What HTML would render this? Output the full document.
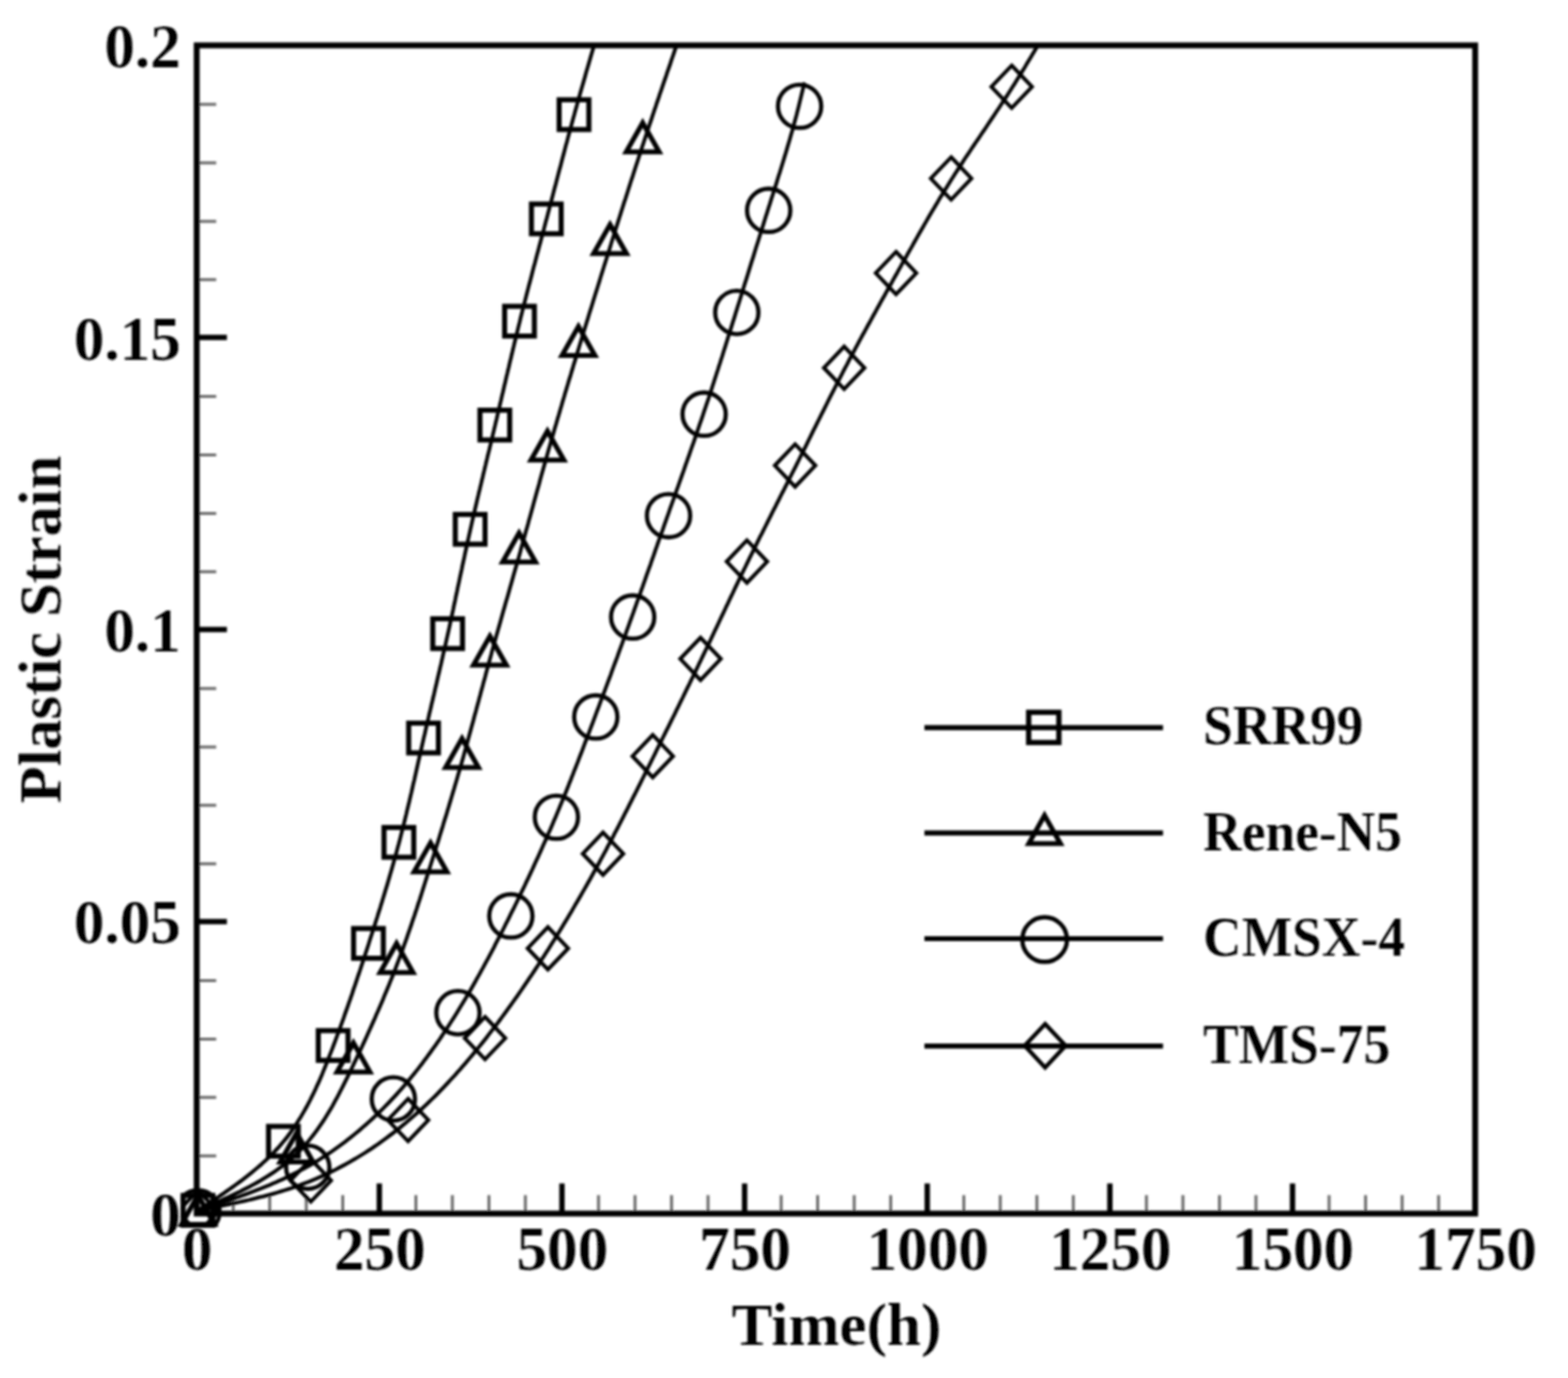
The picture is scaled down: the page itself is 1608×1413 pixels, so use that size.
<!DOCTYPE html>
<html lang="en"><head><meta charset="utf-8"><title>Plastic Strain vs Time(h)</title>
<style>
html,body{margin:0;padding:0;background:#fff;}
body{width:1608px;height:1413px;overflow:hidden;}
svg{display:block;}
</style></head><body>
<svg width="1608" height="1413" viewBox="0 0 1608 1413">
<defs><filter id="bl" x="-2%" y="-2%" width="104%" height="104%"><feGaussianBlur stdDeviation="0.8"/></filter></defs>
<rect width="1608" height="1413" fill="#fff"/>
<g filter="url(#bl)">
<clipPath id="oc"><rect x="185.5" y="1200" width="80" height="58.5"/></clipPath>
<clipPath id="cp"><rect x="201.7" y="46.5" width="1311.1" height="1227.9"/></clipPath>
<g stroke="#000" fill="none">
<path d="M239.2,1244.4 V1225.4 M276.6,1244.4 V1225.4 M314.1,1244.4 V1225.4 M351.5,1244.4 V1225.4 M426.5,1244.4 V1225.4 M463.9,1244.4 V1225.4 M501.4,1244.4 V1225.4 M538.8,1244.4 V1225.4 M613.8,1244.4 V1225.4 M651.2,1244.4 V1225.4 M688.7,1244.4 V1225.4 M726.1,1244.4 V1225.4 M801.1,1244.4 V1225.4 M838.5,1244.4 V1225.4 M876.0,1244.4 V1225.4 M913.4,1244.4 V1225.4 M988.4,1244.4 V1225.4 M1025.8,1244.4 V1225.4 M1063.3,1244.4 V1225.4 M1100.7,1244.4 V1225.4 M1175.7,1244.4 V1225.4 M1213.1,1244.4 V1225.4 M1250.6,1244.4 V1225.4 M1288.0,1244.4 V1225.4 M1363.0,1244.4 V1225.4 M1400.4,1244.4 V1225.4 M1437.9,1244.4 V1225.4 M1475.3,1244.4 V1225.4 M201.7,1185.2 H221.7 M201.7,1125.3 H221.7 M201.7,1065.4 H221.7 M201.7,1005.5 H221.7 M201.7,885.7 H221.7 M201.7,825.8 H221.7 M201.7,765.9 H221.7 M201.7,706.0 H221.7 M201.7,586.3 H221.7 M201.7,526.4 H221.7 M201.7,466.5 H221.7 M201.7,406.6 H221.7 M201.7,286.8 H221.7 M201.7,226.9 H221.7 M201.7,167.0 H221.7 M201.7,107.1 H221.7" stroke="#6a6a6a" stroke-width="3"/>
<path d="M389.0,1244.4 V1213.4 M576.3,1244.4 V1213.4 M763.6,1244.4 V1213.4 M950.9,1244.4 V1213.4 M1138.2,1244.4 V1213.4 M1325.5,1244.4 V1213.4 M201.7,944.9 H232.7 M201.7,645.5 H232.7 M201.7,346.0 H232.7" stroke-width="5.5"/>
<rect x="201.7" y="46.5" width="1311.1" height="1197.9" stroke-width="6"/>
</g>
<g clip-path="url(#cp)" stroke="#000" fill="none" stroke-width="3.8" stroke-linejoin="round">
<path d="M202.5,1241.5 L205.3,1239.7 L208.0,1237.9 L210.8,1236.1 L213.5,1234.3 L216.2,1232.4 L219.0,1230.6 L221.7,1228.8 L224.4,1227.0 L227.1,1225.1 L229.8,1223.3 L232.5,1221.4 L235.2,1219.5 L237.9,1217.6 L240.5,1215.7 L243.2,1213.8 L245.8,1211.9 L248.4,1210.0 L250.9,1208.0 L253.5,1206.0 L256.0,1204.0 L258.5,1202.0 L261.0,1199.9 L263.4,1197.9 L265.9,1195.8 L268.3,1193.7 L270.6,1191.5 L273.0,1189.4 L275.3,1187.2 L277.5,1184.9 L279.8,1182.7 L282.0,1180.4 L284.1,1178.1 L286.3,1175.7 L288.4,1173.3 L290.4,1170.9 L292.4,1168.5 L294.4,1166.0 L296.3,1163.5 L298.2,1160.9 L300.0,1158.3 L301.8,1155.7 L303.6,1153.0 L305.3,1150.3 L307.0,1147.6 L308.7,1144.9 L310.3,1142.1 L311.9,1139.4 L313.5,1136.5 L315.1,1133.7 L316.6,1130.9 L318.1,1128.0 L319.5,1125.1 L321.0,1122.2 L322.4,1119.2 L323.8,1116.3 L325.1,1113.3 L326.5,1110.4 L327.8,1107.4 L329.1,1104.4 L330.4,1101.4 L331.6,1098.4 L332.9,1095.3 L334.1,1092.3 L335.3,1089.3 L336.6,1086.2 L337.7,1083.2 L338.9,1080.1 L340.1,1077.1 L341.3,1074.0 L342.4,1071.0 L343.6,1067.9 L344.7,1064.9 L345.8,1061.8 L347.0,1058.8 L348.1,1055.8 L349.2,1052.7 L350.3,1049.7 L351.4,1046.6 L352.5,1043.6 L353.5,1040.6 L354.6,1037.5 L355.7,1034.5 L356.8,1031.4 L357.8,1028.4 L358.9,1025.4 L359.9,1022.3 L361.0,1019.3 L362.0,1016.2 L363.0,1013.2 L364.1,1010.2 L365.1,1007.1 L366.1,1004.1 L367.1,1001.0 L368.2,998.0 L369.2,995.0 L370.2,991.9 L371.2,988.9 L372.2,985.8 L373.2,982.8 L374.2,979.7 L375.2,976.7 L376.2,973.6 L377.2,970.6 L378.2,967.5 L379.1,964.5 L380.1,961.4 L381.1,958.4 L382.1,955.3 L383.1,952.2 L384.1,949.2 L385.0,946.1 L386.0,943.0 L387.0,940.0 L387.9,936.9 L388.9,933.8 L389.9,930.8 L390.8,927.7 L391.8,924.6 L392.7,921.5 L393.7,918.4 L394.6,915.4 L395.5,912.3 L396.5,909.2 L397.4,906.1 L398.3,903.0 L399.2,899.9 L400.1,896.8 L401.0,893.7 L401.9,890.6 L402.8,887.5 L403.7,884.4 L404.5,881.3 L405.4,878.2 L406.3,875.1 L407.1,872.0 L407.9,868.9 L408.8,865.8 L409.6,862.7 L410.4,859.6 L411.2,856.4 L412.0,853.3 L412.8,850.2 L413.6,847.1 L414.4,843.9 L415.2,840.8 L415.9,837.7 L416.7,834.6 L417.4,831.4 L418.2,828.3 L418.9,825.2 L419.7,822.0 L420.4,818.9 L421.1,815.8 L421.9,812.6 L422.6,809.5 L423.3,806.4 L424.0,803.2 L424.8,800.1 L425.5,796.9 L426.2,793.8 L426.9,790.7 L427.6,787.5 L428.3,784.4 L429.0,781.2 L429.7,778.1 L430.4,775.0 L431.2,771.8 L431.9,768.7 L432.6,765.5 L433.3,762.4 L434.0,759.3 L434.7,756.1 L435.5,753.0 L436.2,749.8 L436.9,746.7 L437.6,743.6 L438.4,740.4 L439.1,737.3 L439.8,734.2 L440.5,731.0 L441.3,727.9 L442.0,724.8 L442.7,721.6 L443.5,718.5 L444.2,715.3 L445.0,712.2 L445.7,709.1 L446.4,705.9 L447.2,702.8 L447.9,699.7 L448.6,696.5 L449.3,693.4 L450.1,690.3 L450.8,687.1 L451.5,684.0 L452.3,680.9 L453.0,677.7 L453.7,674.6 L454.4,671.4 L455.1,668.3 L455.9,665.2 L456.6,662.0 L457.3,658.9 L458.0,655.7 L458.7,652.6 L459.4,649.5 L460.1,646.3 L460.8,643.2 L461.5,640.0 L462.1,636.9 L462.8,633.7 L463.5,630.6 L464.2,627.4 L464.9,624.3 L465.5,621.1 L466.2,618.0 L466.9,614.8 L467.5,611.7 L468.2,608.5 L468.9,605.4 L469.5,602.2 L470.2,599.1 L470.9,595.9 L471.5,592.8 L472.2,589.6 L472.9,586.5 L473.6,583.3 L474.2,580.2 L474.9,577.0 L475.6,573.9 L476.3,570.7 L476.9,567.6 L477.6,564.5 L478.3,561.3 L479.0,558.2 L479.7,555.0 L480.4,551.9 L481.1,548.7 L481.8,545.6 L482.5,542.4 L483.2,539.3 L483.9,536.2 L484.6,533.0 L485.3,529.9 L486.1,526.8 L486.8,523.6 L487.5,520.5 L488.3,517.3 L489.0,514.2 L489.7,511.1 L490.5,507.9 L491.2,504.8 L492.0,501.7 L492.7,498.6 L493.5,495.4 L494.2,492.3 L495.0,489.2 L495.7,486.0 L496.5,482.9 L497.2,479.8 L498.0,476.6 L498.7,473.5 L499.5,470.4 L500.2,467.2 L501.0,464.1 L501.8,461.0 L502.5,457.9 L503.3,454.7 L504.0,451.6 L504.8,448.5 L505.5,445.3 L506.3,442.2 L507.0,439.1 L507.8,435.9 L508.5,432.8 L509.3,429.7 L510.0,426.5 L510.7,423.4 L511.5,420.3 L512.2,417.1 L512.9,414.0 L513.7,410.9 L514.4,407.7 L515.1,404.6 L515.9,401.5 L516.6,398.3 L517.3,395.2 L518.1,392.0 L518.8,388.9 L519.5,385.8 L520.3,382.6 L521.0,379.5 L521.8,376.4 L522.5,373.2 L523.2,370.1 L524.0,367.0 L524.7,363.8 L525.5,360.7 L526.2,357.6 L527.0,354.4 L527.7,351.3 L528.5,348.2 L529.2,345.1 L530.0,341.9 L530.8,338.8 L531.5,335.7 L532.3,332.6 L533.1,329.4 L533.8,326.3 L534.6,323.2 L535.4,320.1 L536.2,316.9 L537.0,313.8 L537.8,310.7 L538.6,307.6 L539.4,304.5 L540.2,301.3 L541.0,298.2 L541.8,295.1 L542.6,292.0 L543.5,288.9 L544.3,285.8 L545.1,282.7 L545.9,279.5 L546.7,276.4 L547.5,273.3 L548.4,270.2 L549.2,267.1 L550.0,264.0 L550.8,260.9 L551.7,257.7 L552.5,254.6 L553.3,251.5 L554.2,248.4 L555.0,245.3 L555.8,242.2 L556.6,239.1 L557.5,236.0 L558.3,232.9 L559.1,229.7 L559.9,226.6 L560.8,223.5 L561.6,220.4 L562.4,217.3 L563.2,214.2 L564.0,211.1 L564.9,207.9 L565.7,204.8 L566.5,201.7 L567.3,198.6 L568.1,195.5 L568.9,192.4 L569.8,189.3 L570.6,186.1 L571.4,183.0 L572.2,179.9 L573.0,176.8 L573.8,173.7 L574.7,170.6 L575.5,167.5 L576.3,164.3 L577.1,161.2 L578.0,158.1 L578.8,155.0 L579.6,151.9 L580.4,148.8 L581.3,145.7 L582.1,142.6 L582.9,139.5 L583.8,136.3 L584.6,133.2 L585.5,130.1 L586.3,127.0 L587.2,123.9 L588.0,120.8 L588.9,117.7 L589.7,114.6 L590.6,111.5 L591.5,108.4 L592.3,105.3 L593.2,102.2 L594.1,99.1 L594.9,96.0 L595.8,92.9 L596.7,89.8 L597.6,86.7 L598.5,83.6 L599.4,80.5 L600.3,77.4 L601.1,74.3 L602.0,71.2 L602.9,68.2 L603.8,65.1 L604.7,62.0 L605.6,58.9 L606.5,55.8 L607.4,52.7 L608.3,49.6 L609.2,46.5"/>
<path d="M202.5,1241.5 L205.6,1240.1 L208.8,1238.8 L211.9,1237.4 L215.1,1236.1 L218.2,1234.7 L221.3,1233.3 L224.5,1231.9 L227.6,1230.5 L230.7,1229.1 L233.8,1227.7 L236.8,1226.3 L239.9,1224.8 L243.0,1223.3 L246.0,1221.9 L249.0,1220.3 L252.0,1218.8 L255.0,1217.3 L257.9,1215.7 L260.8,1214.1 L263.7,1212.5 L266.6,1210.8 L269.4,1209.1 L272.3,1207.4 L275.1,1205.7 L277.8,1203.9 L280.5,1202.1 L283.2,1200.2 L285.9,1198.3 L288.5,1196.4 L291.1,1194.4 L293.6,1192.4 L296.1,1190.3 L298.6,1188.2 L301.0,1186.1 L303.4,1183.9 L305.7,1181.6 L308.0,1179.3 L310.2,1177.0 L312.4,1174.6 L314.6,1172.1 L316.7,1169.6 L318.7,1167.1 L320.8,1164.5 L322.8,1161.9 L324.7,1159.3 L326.6,1156.6 L328.5,1153.9 L330.4,1151.1 L332.2,1148.4 L334.0,1145.5 L335.7,1142.7 L337.5,1139.8 L339.2,1137.0 L340.9,1134.1 L342.5,1131.1 L344.1,1128.2 L345.8,1125.2 L347.4,1122.2 L348.9,1119.2 L350.5,1116.2 L352.0,1113.2 L353.5,1110.2 L355.0,1107.1 L356.5,1104.1 L358.0,1101.1 L359.5,1098.0 L360.9,1095.0 L362.4,1091.9 L363.8,1088.9 L365.3,1085.8 L366.7,1082.8 L368.1,1079.7 L369.6,1076.7 L371.0,1073.7 L372.4,1070.6 L373.8,1067.6 L375.2,1064.6 L376.6,1061.5 L377.9,1058.5 L379.3,1055.5 L380.7,1052.4 L382.0,1049.4 L383.4,1046.4 L384.7,1043.4 L386.0,1040.3 L387.4,1037.3 L388.7,1034.3 L390.0,1031.2 L391.3,1028.2 L392.6,1025.2 L393.8,1022.1 L395.1,1019.1 L396.4,1016.0 L397.6,1013.0 L398.9,1009.9 L400.1,1006.9 L401.4,1003.8 L402.6,1000.8 L403.8,997.7 L405.0,994.6 L406.2,991.5 L407.3,988.5 L408.5,985.4 L409.7,982.3 L410.8,979.2 L412.0,976.1 L413.1,973.0 L414.2,969.9 L415.3,966.8 L416.5,963.6 L417.6,960.5 L418.6,957.4 L419.7,954.3 L420.8,951.1 L421.9,948.0 L422.9,944.8 L424.0,941.7 L425.1,938.6 L426.1,935.4 L427.2,932.3 L428.2,929.1 L429.2,925.9 L430.3,922.8 L431.3,919.6 L432.3,916.5 L433.3,913.3 L434.3,910.1 L435.3,907.0 L436.3,903.8 L437.3,900.6 L438.3,897.5 L439.3,894.3 L440.3,891.1 L441.3,888.0 L442.3,884.8 L443.3,881.6 L444.3,878.5 L445.3,875.3 L446.3,872.1 L447.3,869.0 L448.3,865.8 L449.3,862.6 L450.3,859.4 L451.2,856.3 L452.2,853.1 L453.2,849.9 L454.2,846.8 L455.1,843.6 L456.1,840.4 L457.1,837.3 L458.1,834.1 L459.0,830.9 L460.0,827.7 L460.9,824.6 L461.9,821.4 L462.8,818.2 L463.8,815.0 L464.7,811.9 L465.7,808.7 L466.6,805.5 L467.6,802.3 L468.5,799.2 L469.4,796.0 L470.3,792.8 L471.3,789.6 L472.2,786.4 L473.1,783.2 L474.0,780.1 L474.9,776.9 L475.8,773.7 L476.7,770.5 L477.6,767.3 L478.5,764.1 L479.4,760.9 L480.2,757.7 L481.1,754.5 L482.0,751.3 L482.9,748.1 L483.7,744.9 L484.6,741.7 L485.5,738.5 L486.3,735.3 L487.2,732.1 L488.1,728.9 L488.9,725.7 L489.8,722.5 L490.7,719.3 L491.5,716.1 L492.4,712.9 L493.2,709.7 L494.1,706.5 L495.0,703.3 L495.8,700.1 L496.7,696.9 L497.6,693.7 L498.4,690.5 L499.3,687.3 L500.2,684.1 L501.0,680.9 L501.9,677.7 L502.8,674.5 L503.7,671.3 L504.5,668.1 L505.4,664.9 L506.3,661.7 L507.2,658.5 L508.1,655.3 L509.0,652.1 L509.9,648.9 L510.8,645.7 L511.7,642.6 L512.6,639.4 L513.5,636.2 L514.4,633.0 L515.3,629.8 L516.2,626.6 L517.1,623.4 L518.0,620.2 L518.9,617.0 L519.9,613.8 L520.8,610.7 L521.7,607.5 L522.6,604.3 L523.5,601.1 L524.4,597.9 L525.3,594.7 L526.2,591.5 L527.1,588.3 L528.0,585.2 L528.9,582.0 L529.9,578.8 L530.8,575.6 L531.7,572.4 L532.6,569.2 L533.5,566.0 L534.3,562.8 L535.2,559.6 L536.1,556.4 L537.0,553.2 L537.9,550.0 L538.8,546.8 L539.7,543.6 L540.6,540.5 L541.5,537.3 L542.3,534.1 L543.2,530.9 L544.1,527.7 L545.0,524.5 L545.9,521.3 L546.8,518.1 L547.6,514.9 L548.5,511.7 L549.4,508.5 L550.3,505.3 L551.2,502.1 L552.1,498.9 L553.0,495.7 L553.8,492.5 L554.7,489.3 L555.6,486.1 L556.5,482.9 L557.4,479.7 L558.3,476.6 L559.2,473.4 L560.1,470.2 L561.0,467.0 L561.9,463.8 L562.8,460.6 L563.7,457.4 L564.6,454.2 L565.5,451.0 L566.5,447.8 L567.4,444.7 L568.3,441.5 L569.2,438.3 L570.2,435.1 L571.1,431.9 L572.0,428.7 L573.0,425.6 L573.9,422.4 L574.8,419.2 L575.8,416.0 L576.7,412.8 L577.6,409.7 L578.6,406.5 L579.5,403.3 L580.5,400.1 L581.4,397.0 L582.4,393.8 L583.3,390.6 L584.3,387.4 L585.3,384.3 L586.2,381.1 L587.2,377.9 L588.1,374.7 L589.1,371.6 L590.1,368.4 L591.0,365.2 L592.0,362.0 L593.0,358.9 L593.9,355.7 L594.9,352.5 L595.9,349.4 L596.8,346.2 L597.8,343.0 L598.8,339.8 L599.7,336.7 L600.7,333.5 L601.7,330.3 L602.7,327.2 L603.6,324.0 L604.6,320.8 L605.6,317.7 L606.6,314.5 L607.6,311.3 L608.5,308.2 L609.5,305.0 L610.5,301.8 L611.5,298.7 L612.5,295.5 L613.5,292.3 L614.5,289.2 L615.4,286.0 L616.4,282.8 L617.4,279.7 L618.4,276.5 L619.4,273.3 L620.4,270.2 L621.4,267.0 L622.4,263.8 L623.4,260.7 L624.4,257.5 L625.4,254.4 L626.3,251.2 L627.3,248.0 L628.3,244.9 L629.3,241.7 L630.3,238.5 L631.3,235.4 L632.3,232.2 L633.3,229.1 L634.3,225.9 L635.3,222.7 L636.3,219.6 L637.3,216.4 L638.3,213.2 L639.3,210.1 L640.3,206.9 L641.4,203.8 L642.4,200.6 L643.4,197.5 L644.4,194.3 L645.4,191.1 L646.4,188.0 L647.4,184.8 L648.5,181.7 L649.5,178.5 L650.5,175.4 L651.5,172.2 L652.5,169.1 L653.6,165.9 L654.6,162.7 L655.6,159.6 L656.7,156.4 L657.7,153.3 L658.7,150.1 L659.8,147.0 L660.8,143.9 L661.9,140.7 L662.9,137.6 L663.9,134.4 L665.0,131.3 L666.0,128.1 L667.1,125.0 L668.2,121.8 L669.2,118.7 L670.3,115.5 L671.3,112.4 L672.4,109.3 L673.4,106.1 L674.5,103.0 L675.6,99.8 L676.6,96.7 L677.7,93.6 L678.8,90.4 L679.8,87.3 L680.9,84.1 L682.0,81.0 L683.1,77.9 L684.1,74.7 L685.2,71.6 L686.3,68.5 L687.4,65.3 L688.4,62.2 L689.5,59.0 L690.6,55.9 L691.6,52.8 L692.7,49.6 L693.8,46.5"/>
<path d="M202.5,1241.5 L205.8,1240.4 L209.0,1239.4 L212.3,1238.3 L215.6,1237.2 L218.9,1236.1 L222.1,1235.0 L225.4,1233.9 L228.6,1232.8 L231.9,1231.7 L235.1,1230.6 L238.4,1229.5 L241.6,1228.3 L244.9,1227.2 L248.1,1226.0 L251.3,1224.9 L254.5,1223.7 L257.7,1222.5 L260.9,1221.3 L264.1,1220.0 L267.3,1218.8 L270.5,1217.5 L273.6,1216.2 L276.8,1214.9 L279.9,1213.5 L283.1,1212.2 L286.2,1210.8 L289.3,1209.4 L292.4,1208.0 L295.5,1206.5 L298.5,1205.0 L301.6,1203.5 L304.6,1202.0 L307.6,1200.4 L310.6,1198.8 L313.6,1197.2 L316.6,1195.5 L319.6,1193.8 L322.5,1192.0 L325.4,1190.3 L328.3,1188.5 L331.2,1186.6 L334.1,1184.8 L336.9,1182.9 L339.8,1181.0 L342.6,1179.0 L345.4,1177.0 L348.2,1175.0 L350.9,1173.0 L353.7,1170.9 L356.4,1168.8 L359.1,1166.7 L361.8,1164.6 L364.4,1162.4 L367.1,1160.2 L369.7,1158.0 L372.3,1155.7 L374.9,1153.5 L377.5,1151.2 L380.0,1148.9 L382.6,1146.5 L385.1,1144.2 L387.6,1141.8 L390.0,1139.4 L392.5,1137.0 L394.9,1134.5 L397.3,1132.1 L399.7,1129.6 L402.0,1127.1 L404.4,1124.6 L406.7,1122.1 L409.0,1119.5 L411.3,1116.9 L413.5,1114.4 L415.8,1111.8 L418.0,1109.2 L420.2,1106.5 L422.3,1103.9 L424.5,1101.2 L426.6,1098.6 L428.8,1095.9 L430.9,1093.2 L433.0,1090.5 L435.0,1087.7 L437.1,1085.0 L439.1,1082.2 L441.1,1079.5 L443.1,1076.7 L445.1,1073.9 L447.1,1071.1 L449.0,1068.3 L451.0,1065.5 L452.9,1062.6 L454.8,1059.8 L456.7,1056.9 L458.6,1054.1 L460.4,1051.2 L462.3,1048.3 L464.1,1045.5 L466.0,1042.6 L467.8,1039.7 L469.6,1036.8 L471.4,1033.8 L473.1,1030.9 L474.9,1028.0 L476.7,1025.1 L478.4,1022.1 L480.1,1019.2 L481.9,1016.2 L483.6,1013.3 L485.3,1010.3 L487.0,1007.3 L488.6,1004.3 L490.3,1001.4 L492.0,998.4 L493.6,995.4 L495.3,992.4 L496.9,989.4 L498.5,986.4 L500.2,983.4 L501.8,980.3 L503.4,977.3 L505.0,974.3 L506.6,971.3 L508.1,968.2 L509.7,965.2 L511.3,962.2 L512.9,959.1 L514.4,956.1 L516.0,953.0 L517.5,950.0 L519.0,946.9 L520.6,943.9 L522.1,940.8 L523.6,937.7 L525.1,934.7 L526.7,931.6 L528.2,928.5 L529.7,925.5 L531.2,922.4 L532.7,919.3 L534.1,916.2 L535.6,913.2 L537.1,910.1 L538.6,907.0 L540.0,903.9 L541.5,900.8 L543.0,897.7 L544.4,894.6 L545.9,891.5 L547.3,888.4 L548.7,885.3 L550.1,882.2 L551.6,879.1 L553.0,876.0 L554.4,872.9 L555.8,869.8 L557.2,866.6 L558.6,863.5 L560.0,860.4 L561.3,857.3 L562.7,854.1 L564.1,851.0 L565.4,847.9 L566.8,844.7 L568.1,841.6 L569.5,838.4 L570.8,835.3 L572.1,832.1 L573.4,829.0 L574.7,825.8 L576.0,822.7 L577.3,819.5 L578.6,816.3 L579.9,813.2 L581.2,810.0 L582.5,806.8 L583.7,803.6 L585.0,800.5 L586.2,797.3 L587.5,794.1 L588.7,790.9 L590.0,787.7 L591.2,784.6 L592.5,781.4 L593.7,778.2 L594.9,775.0 L596.2,771.8 L597.4,768.6 L598.6,765.4 L599.8,762.2 L601.0,759.0 L602.3,755.8 L603.5,752.6 L604.7,749.4 L605.9,746.2 L607.1,743.0 L608.3,739.8 L609.5,736.6 L610.7,733.4 L611.9,730.2 L613.1,727.0 L614.3,723.8 L615.5,720.6 L616.7,717.4 L617.9,714.2 L619.1,711.0 L620.3,707.8 L621.5,704.6 L622.7,701.4 L623.9,698.2 L625.1,695.0 L626.3,691.8 L627.4,688.6 L628.6,685.4 L629.8,682.2 L631.0,679.0 L632.2,675.8 L633.4,672.6 L634.5,669.4 L635.7,666.1 L636.9,662.9 L638.1,659.7 L639.2,656.5 L640.4,653.3 L641.6,650.1 L642.7,646.9 L643.9,643.7 L645.1,640.4 L646.2,637.2 L647.4,634.0 L648.5,630.8 L649.7,627.6 L650.8,624.4 L652.0,621.1 L653.1,617.9 L654.3,614.7 L655.4,611.5 L656.6,608.3 L657.7,605.0 L658.9,601.8 L660.0,598.6 L661.2,595.4 L662.3,592.2 L663.4,588.9 L664.6,585.7 L665.7,582.5 L666.9,579.3 L668.0,576.0 L669.1,572.8 L670.3,569.6 L671.4,566.4 L672.5,563.1 L673.7,559.9 L674.8,556.7 L675.9,553.5 L677.1,550.2 L678.2,547.0 L679.4,543.8 L680.5,540.6 L681.6,537.4 L682.8,534.1 L683.9,530.9 L685.1,527.7 L686.2,524.5 L687.3,521.2 L688.5,518.0 L689.6,514.8 L690.8,511.6 L691.9,508.4 L693.1,505.1 L694.2,501.9 L695.4,498.7 L696.5,495.5 L697.6,492.3 L698.8,489.0 L699.9,485.8 L701.1,482.6 L702.2,479.4 L703.3,476.1 L704.5,472.9 L705.6,469.7 L706.8,466.5 L707.9,463.2 L709.0,460.0 L710.1,456.8 L711.3,453.6 L712.4,450.3 L713.5,447.1 L714.6,443.9 L715.7,440.6 L716.8,437.4 L717.9,434.2 L719.1,430.9 L720.2,427.7 L721.2,424.5 L722.3,421.2 L723.4,418.0 L724.5,414.7 L725.6,411.5 L726.7,408.3 L727.7,405.0 L728.8,401.8 L729.9,398.5 L730.9,395.3 L732.0,392.0 L733.0,388.8 L734.1,385.5 L735.1,382.3 L736.2,379.0 L737.2,375.7 L738.3,372.5 L739.3,369.2 L740.4,366.0 L741.4,362.7 L742.4,359.5 L743.5,356.2 L744.5,352.9 L745.5,349.7 L746.5,346.4 L747.6,343.2 L748.6,339.9 L749.6,336.6 L750.6,333.4 L751.6,330.1 L752.7,326.8 L753.7,323.6 L754.7,320.3 L755.7,317.1 L756.7,313.8 L757.8,310.5 L758.8,307.3 L759.8,304.0 L760.8,300.7 L761.8,297.5 L762.8,294.2 L763.8,290.9 L764.9,287.7 L765.9,284.4 L766.9,281.2 L767.9,277.9 L768.9,274.6 L769.9,271.4 L770.9,268.1 L772.0,264.8 L773.0,261.6 L774.0,258.3 L775.0,255.0 L776.0,251.8 L777.1,248.5 L778.1,245.3 L779.1,242.0 L780.1,238.7 L781.1,235.5 L782.2,232.2 L783.2,228.9 L784.2,225.7 L785.2,222.4 L786.3,219.2 L787.3,215.9 L788.3,212.6 L789.4,209.4 L790.4,206.1 L791.4,202.9 L792.5,199.6 L793.5,196.3 L794.5,193.1 L795.6,189.8 L796.6,186.6 L797.6,183.3 L798.6,180.0 L799.7,176.8 L800.7,173.5 L801.7,170.2 L802.7,167.0 L803.7,163.7 L804.7,160.4 L805.7,157.2 L806.7,153.9 L807.6,150.6 L808.6,147.3 L809.6,144.0 L810.5,140.8 L811.4,137.5 L812.4,134.2 L813.3,130.9 L814.2,127.6 L815.1,124.3 L816.0,121.0 L816.9,117.7 L817.7,114.4 L818.6,111.1 L819.4,107.8 L820.2,104.4 L821.0,101.1 L821.8,97.8 L822.6,94.5 L823.4,91.2 L824.2,87.8 L825.0,84.5"/>
<path d="M202.5,1241.5 L206.3,1240.8 L210.0,1240.0 L213.8,1239.3 L217.6,1238.5 L221.3,1237.8 L225.1,1237.0 L228.8,1236.2 L232.6,1235.4 L236.3,1234.6 L240.1,1233.8 L243.8,1233.0 L247.6,1232.2 L251.3,1231.3 L255.0,1230.5 L258.7,1229.6 L262.4,1228.7 L266.1,1227.7 L269.8,1226.8 L273.5,1225.8 L277.2,1224.8 L280.8,1223.8 L284.5,1222.7 L288.1,1221.6 L291.8,1220.5 L295.4,1219.4 L299.0,1218.2 L302.6,1216.9 L306.2,1215.7 L309.7,1214.4 L313.3,1213.0 L316.8,1211.7 L320.4,1210.2 L323.9,1208.8 L327.3,1207.3 L330.8,1205.7 L334.3,1204.1 L337.7,1202.5 L341.2,1200.8 L344.6,1199.1 L348.0,1197.3 L351.3,1195.5 L354.7,1193.7 L358.0,1191.8 L361.3,1189.9 L364.6,1188.0 L367.9,1186.0 L371.2,1184.0 L374.4,1182.0 L377.6,1179.9 L380.8,1177.8 L384.0,1175.6 L387.2,1173.5 L390.3,1171.2 L393.4,1169.0 L396.5,1166.7 L399.6,1164.4 L402.7,1162.1 L405.7,1159.8 L408.7,1157.4 L411.7,1155.0 L414.7,1152.6 L417.6,1150.1 L420.5,1147.6 L423.4,1145.1 L426.3,1142.6 L429.1,1140.0 L432.0,1137.5 L434.8,1134.9 L437.5,1132.3 L440.3,1129.6 L443.0,1127.0 L445.8,1124.3 L448.5,1121.6 L451.1,1118.9 L453.8,1116.1 L456.4,1113.4 L459.0,1110.6 L461.6,1107.8 L464.2,1105.0 L466.8,1102.2 L469.3,1099.3 L471.9,1096.5 L474.4,1093.6 L476.9,1090.7 L479.4,1087.8 L481.8,1084.9 L484.3,1082.0 L486.7,1079.0 L489.1,1076.1 L491.5,1073.1 L493.9,1070.2 L496.3,1067.2 L498.7,1064.2 L501.0,1061.2 L503.3,1058.2 L505.7,1055.1 L508.0,1052.1 L510.3,1049.1 L512.6,1046.0 L514.8,1043.0 L517.1,1039.9 L519.3,1036.8 L521.6,1033.7 L523.8,1030.6 L526.0,1027.5 L528.2,1024.4 L530.4,1021.3 L532.6,1018.2 L534.8,1015.0 L536.9,1011.9 L539.1,1008.7 L541.2,1005.6 L543.3,1002.4 L545.5,999.3 L547.6,996.1 L549.7,992.9 L551.8,989.7 L553.8,986.5 L555.9,983.3 L558.0,980.1 L560.0,976.9 L562.1,973.7 L564.1,970.5 L566.1,967.2 L568.2,964.0 L570.2,960.8 L572.2,957.5 L574.2,954.3 L576.2,951.0 L578.1,947.8 L580.1,944.5 L582.1,941.2 L584.0,938.0 L586.0,934.7 L587.9,931.4 L589.8,928.1 L591.8,924.8 L593.7,921.5 L595.6,918.2 L597.5,914.9 L599.4,911.6 L601.3,908.3 L603.1,905.0 L605.0,901.7 L606.9,898.3 L608.7,895.0 L610.5,891.7 L612.4,888.3 L614.2,885.0 L616.0,881.6 L617.8,878.3 L619.7,874.9 L621.5,871.6 L623.2,868.2 L625.0,864.8 L626.8,861.5 L628.6,858.1 L630.3,854.7 L632.1,851.3 L633.9,848.0 L635.6,844.6 L637.4,841.2 L639.1,837.8 L640.8,834.4 L642.6,831.0 L644.3,827.6 L646.0,824.2 L647.7,820.8 L649.4,817.4 L651.2,814.0 L652.9,810.6 L654.6,807.2 L656.3,803.8 L658.0,800.4 L659.7,797.0 L661.4,793.6 L663.1,790.1 L664.8,786.7 L666.5,783.3 L668.2,779.9 L669.9,776.5 L671.6,773.1 L673.2,769.7 L674.9,766.3 L676.6,762.8 L678.3,759.4 L680.0,756.0 L681.7,752.6 L683.4,749.2 L685.1,745.8 L686.8,742.4 L688.5,738.9 L690.2,735.5 L691.9,732.1 L693.5,728.7 L695.2,725.3 L696.9,721.9 L698.6,718.4 L700.3,715.0 L701.9,711.6 L703.6,708.2 L705.3,704.7 L707.0,701.3 L708.6,697.9 L710.3,694.5 L712.0,691.0 L713.6,687.6 L715.3,684.2 L716.9,680.7 L718.6,677.3 L720.2,673.9 L721.9,670.4 L723.5,667.0 L725.2,663.6 L726.8,660.1 L728.4,656.7 L730.1,653.2 L731.7,649.8 L733.3,646.3 L735.0,642.9 L736.6,639.5 L738.2,636.0 L739.8,632.6 L741.5,629.1 L743.1,625.7 L744.7,622.2 L746.4,618.8 L748.0,615.3 L749.6,611.9 L751.3,608.5 L752.9,605.0 L754.5,601.6 L756.2,598.1 L757.8,594.7 L759.5,591.3 L761.1,587.8 L762.8,584.4 L764.5,581.0 L766.1,577.6 L767.8,574.1 L769.5,570.7 L771.2,567.3 L772.9,563.9 L774.6,560.5 L776.2,557.1 L777.9,553.6 L779.6,550.2 L781.4,546.8 L783.1,543.4 L784.8,540.0 L786.5,536.6 L788.2,533.2 L789.9,529.8 L791.6,526.4 L793.3,523.0 L795.1,519.6 L796.8,516.2 L798.5,512.8 L800.2,509.4 L801.9,506.0 L803.7,502.6 L805.4,499.2 L807.1,495.8 L808.8,492.4 L810.5,489.0 L812.2,485.6 L814.0,482.2 L815.7,478.8 L817.4,475.4 L819.1,472.0 L820.8,468.5 L822.5,465.1 L824.2,461.7 L825.9,458.3 L827.6,454.9 L829.2,451.5 L830.9,448.1 L832.6,444.7 L834.3,441.2 L836.0,437.8 L837.7,434.4 L839.4,431.0 L841.1,427.6 L842.8,424.2 L844.5,420.8 L846.2,417.4 L847.9,414.0 L849.6,410.5 L851.3,407.1 L853.1,403.7 L854.8,400.3 L856.5,397.0 L858.2,393.6 L860.0,390.2 L861.7,386.8 L863.5,383.4 L865.2,380.0 L867.0,376.6 L868.8,373.3 L870.5,369.9 L872.3,366.5 L874.1,363.2 L875.9,359.8 L877.7,356.4 L879.5,353.1 L881.3,349.7 L883.1,346.4 L884.9,343.0 L886.8,339.7 L888.6,336.4 L890.4,333.0 L892.3,329.7 L894.1,326.3 L895.9,323.0 L897.8,319.7 L899.6,316.3 L901.5,313.0 L903.3,309.7 L905.2,306.3 L907.1,303.0 L908.9,299.7 L910.8,296.3 L912.6,293.0 L914.5,289.7 L916.3,286.4 L918.2,283.0 L920.1,279.7 L921.9,276.4 L923.8,273.1 L925.6,269.7 L927.5,266.4 L929.4,263.1 L931.2,259.7 L933.1,256.4 L935.0,253.1 L936.8,249.8 L938.7,246.5 L940.6,243.1 L942.5,239.8 L944.4,236.5 L946.3,233.2 L948.2,229.9 L950.1,226.6 L952.0,223.3 L953.9,220.0 L955.8,216.7 L957.8,213.5 L959.7,210.2 L961.7,206.9 L963.6,203.6 L965.6,200.4 L967.6,197.1 L969.6,193.9 L971.6,190.7 L973.6,187.4 L975.6,184.2 L977.7,181.0 L979.7,177.8 L981.8,174.6 L983.9,171.4 L986.0,168.2 L988.0,165.0 L990.1,161.8 L992.3,158.6 L994.4,155.5 L996.5,152.3 L998.6,149.1 L1000.7,146.0 L1002.9,142.8 L1005.0,139.7 L1007.1,136.5 L1009.3,133.3 L1011.4,130.2 L1013.5,127.0 L1015.6,123.9 L1017.8,120.7 L1019.9,117.5 L1022.0,114.3 L1024.1,111.2 L1026.2,108.0 L1028.3,104.8 L1030.4,101.6 L1032.5,98.4 L1034.5,95.2 L1036.6,92.0 L1038.6,88.8 L1040.7,85.6 L1042.7,82.3 L1044.7,79.1 L1046.7,75.9 L1048.7,72.6 L1050.7,69.4 L1052.6,66.1 L1054.6,62.8 L1056.6,59.6 L1058.5,56.3 L1060.5,53.0 L1062.4,49.8 L1064.4,46.5"/>
</g>
<g stroke="#000" fill="none">
<rect x="275.4" y="1155.0" width="30.5" height="30.5" stroke-width="5.2"/>
<rect x="326.4" y="1056.8" width="30.5" height="30.5" stroke-width="5.2"/>
<rect x="362.6" y="952.1" width="30.5" height="30.5" stroke-width="5.2"/>
<rect x="393.8" y="848.5" width="30.5" height="30.5" stroke-width="5.2"/>
<rect x="419.1" y="741.5" width="30.5" height="30.5" stroke-width="5.2"/>
<rect x="443.8" y="634.5" width="30.5" height="30.5" stroke-width="5.2"/>
<rect x="466.9" y="527.5" width="30.5" height="30.5" stroke-width="5.2"/>
<rect x="492.2" y="420.6" width="30.5" height="30.5" stroke-width="5.2"/>
<rect x="517.5" y="314.1" width="30.5" height="30.5" stroke-width="5.2"/>
<rect x="545.0" y="209.2" width="30.5" height="30.5" stroke-width="5.2"/>
<rect x="573.4" y="102.3" width="30.5" height="30.5" stroke-width="5.2"/>
<path d="M304.2,1161.8 L321.1,1191.6 H287.3 Z" stroke-width="5.0" stroke-linejoin="miter"/>
<path d="M362.5,1069.4 L379.4,1099.2 H345.6 Z" stroke-width="5.0" stroke-linejoin="miter"/>
<path d="M406.7,967.4 L423.6,997.2 H389.8 Z" stroke-width="5.0" stroke-linejoin="miter"/>
<path d="M441.5,864.2 L458.4,894.0 H424.6 Z" stroke-width="5.0" stroke-linejoin="miter"/>
<path d="M473.8,757.2 L490.7,787.0 H456.9 Z" stroke-width="5.0" stroke-linejoin="miter"/>
<path d="M502.4,652.2 L519.3,682.0 H485.5 Z" stroke-width="5.0" stroke-linejoin="miter"/>
<path d="M532.3,546.5 L549.2,576.3 H515.4 Z" stroke-width="5.0" stroke-linejoin="miter"/>
<path d="M561.4,442.0 L578.3,471.8 H544.5 Z" stroke-width="5.0" stroke-linejoin="miter"/>
<path d="M593.2,334.7 L610.1,364.5 H576.3 Z" stroke-width="5.0" stroke-linejoin="miter"/>
<path d="M625.6,230.3 L642.5,260.1 H608.7 Z" stroke-width="5.0" stroke-linejoin="miter"/>
<path d="M659.1,125.9 L676.0,155.7 H642.2 Z" stroke-width="5.0" stroke-linejoin="miter"/>
<circle cx="315.6" cy="1196.9" r="22.2" stroke-width="4.3"/>
<circle cx="403.4" cy="1126.9" r="22.2" stroke-width="4.3"/>
<circle cx="469.6" cy="1038.4" r="22.2" stroke-width="4.3"/>
<circle cx="523.9" cy="939.2" r="22.2" stroke-width="4.3"/>
<circle cx="570.6" cy="838.0" r="22.2" stroke-width="4.3"/>
<circle cx="611.0" cy="735.2" r="22.2" stroke-width="4.3"/>
<circle cx="648.8" cy="632.7" r="22.2" stroke-width="4.3"/>
<circle cx="685.6" cy="528.8" r="22.2" stroke-width="4.3"/>
<circle cx="722.1" cy="424.7" r="22.2" stroke-width="4.3"/>
<circle cx="755.6" cy="320.4" r="22.2" stroke-width="4.3"/>
<circle cx="788.3" cy="215.7" r="22.2" stroke-width="4.3"/>
<circle cx="820.0" cy="109.0" r="22.2" stroke-width="4.3"/>
<path d="M318.7,1188.7 L339.5,1210.5 L318.7,1232.3 L297.9,1210.5 Z" stroke-width="3.9"/>
<path d="M418.5,1126.7 L439.3,1148.5 L418.5,1170.3 L397.7,1148.5 Z" stroke-width="3.9"/>
<path d="M497.4,1042.7 L518.2,1064.5 L497.4,1086.3 L476.6,1064.5 Z" stroke-width="3.9"/>
<path d="M561.9,950.6 L582.7,972.4 L561.9,994.2 L541.1,972.4 Z" stroke-width="3.9"/>
<path d="M618.4,853.6 L639.2,875.4 L618.4,897.2 L597.6,875.4 Z" stroke-width="3.9"/>
<path d="M669.4,753.6 L690.2,775.4 L669.4,797.2 L648.6,775.4 Z" stroke-width="3.9"/>
<path d="M718.4,653.8 L739.2,675.6 L718.4,697.4 L697.6,675.6 Z" stroke-width="3.9"/>
<path d="M766.0,554.0 L786.8,575.8 L766.0,597.6 L745.2,575.8 Z" stroke-width="3.9"/>
<path d="M815.4,455.5 L836.2,477.3 L815.4,499.1 L794.6,477.3 Z" stroke-width="3.9"/>
<path d="M865.7,355.4 L886.5,377.2 L865.7,399.0 L844.9,377.2 Z" stroke-width="3.9"/>
<path d="M918.9,258.2 L939.7,280.0 L918.9,301.8 L898.1,280.0 Z" stroke-width="3.9"/>
<path d="M975.4,161.2 L996.2,183.0 L975.4,204.8 L954.6,183.0 Z" stroke-width="3.9"/>
<path d="M1037.5,67.2 L1058.3,89.0 L1037.5,110.8 L1016.7,89.0 Z" stroke-width="3.9"/>
<rect x="187.8" y="1225.8" width="30.5" height="30.5" stroke-width="5.2"/>
<path d="M203.0,1225.6 L219.9,1255.4 H186.1 Z" stroke-width="5.0" stroke-linejoin="miter"/>
<g clip-path="url(#oc)"><circle cx="203.0" cy="1242.5" r="22.2" stroke-width="4.3"/><path d="M203.0,1220.7 L223.8,1242.5 L203.0,1264.3 L182.2,1242.5 Z" stroke-width="3.9"/></g>
<path d="M948,746.1 H1192.7" stroke-width="5.2"/>
<path d="M948,854.1 H1192.7" stroke-width="5.2"/>
<path d="M948,962.5 H1192.7" stroke-width="5.2"/>
<path d="M948,1072.6 H1192.7" stroke-width="5.2"/>
<rect x="1054.9" y="730.4" width="31" height="31" stroke-width="5.4"/>
<path d="M1071.2,836.1 L1087.5,865.1 H1055.0 Z" stroke-width="5.0" stroke-linejoin="miter"/>
<circle cx="1071.3" cy="963.4" r="22.9" stroke-width="4.4"/>
<path d="M1071.8,1050.0 L1092.8,1072.3 L1071.8,1094.6 L1050.8,1072.3 Z" stroke-width="4.2"/>
</g>
<g font-family="'Liberation Serif', serif" font-weight="bold" fill="#000" stroke="#fff" stroke-width="0.1" stroke-linejoin="round">
<text transform="translate(202.2,1302.3) scale(1.02,1.045)" font-size="61.5" text-anchor="middle">0</text>
<text transform="translate(389.5,1302.3) scale(1.02,1.045)" font-size="61.5" text-anchor="middle">250</text>
<text transform="translate(576.8,1302.3) scale(1.02,1.045)" font-size="61.5" text-anchor="middle">500</text>
<text transform="translate(764.1,1302.3) scale(1.02,1.045)" font-size="61.5" text-anchor="middle">750</text>
<text transform="translate(951.4,1302.3) scale(1.02,1.045)" font-size="61.5" text-anchor="middle">1000</text>
<text transform="translate(1138.7,1302.3) scale(1.02,1.045)" font-size="61.5" text-anchor="middle">1250</text>
<text transform="translate(1326.0,1302.3) scale(1.02,1.045)" font-size="61.5" text-anchor="middle">1500</text>
<text transform="translate(1513.3,1302.3) scale(1.02,1.045)" font-size="61.5" text-anchor="middle">1750</text>
<text transform="translate(185.4,1267.0) scale(1.02,1.045)" font-size="61.5" text-anchor="end">0</text>
<text transform="translate(185.4,967.5) scale(1.02,1.045)" font-size="61.5" text-anchor="end">0.05</text>
<text transform="translate(185.4,668.1) scale(1.02,1.045)" font-size="61.5" text-anchor="end">0.1</text>
<text transform="translate(185.4,368.6) scale(1.02,1.045)" font-size="61.5" text-anchor="end">0.15</text>
<text transform="translate(185.4,69.1) scale(1.02,1.045)" font-size="61.5" text-anchor="end">0.2</text>
<text transform="translate(857.8,1379) scale(1.014,1)" font-size="62" text-anchor="middle">Time(h)</text>
<text transform="translate(62,645.5) rotate(-90)" font-size="62" text-anchor="middle">Plastic Strain</text>
<text transform="translate(1233.8,763.3) scale(1.015,1.068)" font-size="54">SRR99</text>
<text transform="translate(1233.8,872.3) scale(1.015,1.068)" font-size="54">Rene-N5</text>
<text transform="translate(1233.8,980.3) scale(1.015,1.068)" font-size="54">CMSX-4</text>
<text transform="translate(1233.8,1089.8) scale(1.015,1.068)" font-size="54">TMS-75</text>
</g>
</g>
</svg>
</body></html>
